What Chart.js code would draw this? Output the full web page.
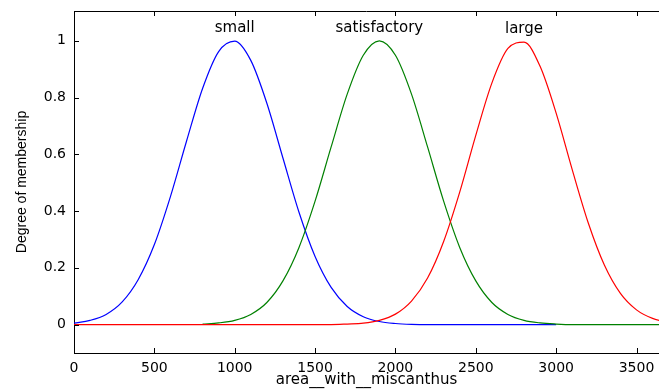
<!DOCTYPE html>
<html>
<head>
<meta charset="utf-8">
<script src="https://cdn.jsdelivr.net/npm/chart.js@4.4.1/dist/chart.umd.min.js"></script>
<style>
  body { margin: 0; background: #fff; }
  canvas { display: block; }
</style>
</head>
<body>
<canvas id="myChart" width="659" height="390"></canvas>
<script>
// x positions (area with miscanthus), one value every 100
const xValues = [0, 100, 200, 300, 400, 500, 600, 700, 800, 900,
    1000, 1100, 1200, 1300, 1400, 1500, 1600, 1700, 1800, 1900,
    2000, 2100, 2200, 2300, 2400, 2500, 2600, 2700, 2800, 2900,
    3000, 3100, 3200, 3300, 3400, 3500, 3600, 3700];

const seriesNames = ['small', 'satisfactory', 'large'];

// degree of membership
const small = [0.005, 0.015, 0.036, 0.08, 0.159, 0.282, 0.451, 0.646, 0.832, 0.962,
    0.999, 0.931, 0.78, 0.587, 0.396, 0.24, 0.131, 0.064, 0.028, 0.011,
    0.004, 0.001, 0, 0, 0, 0, 0, 0, 0, 0,
    0, null, null, null, null, null, null, null];

const satisfactory = [null, null, null, null, null, null, null, null, 0.002, 0.006,
    0.015, 0.036, 0.078, 0.154, 0.272, 0.435, 0.626, 0.812, 0.949, 1,
    0.949, 0.812, 0.626, 0.435, 0.272, 0.154, 0.078, 0.036, 0.015, 0.006,
    0.002, 0, 0, 0, 0, 0, 0, 0];

const large = [0, 0, 0, 0, 0, 0, 0, 0, 0, 0,
    0, 0, 0, 0, 0, 0, 0, 0.002, 0.005, 0.015,
    0.037, 0.083, 0.164, 0.293, 0.467, 0.667, 0.851, 0.973, 0.995, 0.91,
    0.745, 0.546, 0.358, 0.21, 0.11, 0.052, 0.022, 0.008];

const xTicks = [0, 500, 1000, 1500, 2000, 2500, 3000, 3500];
const yTicks = [0, 0.2, 0.4, 0.6, 0.8, 1];

const toPoints = arr => arr.map((v, i) => ({ x: xValues[i], y: v }));

// matlab style box: top edge plus inward tick marks
const matlabAxes = {
    id: 'matlabAxes',
    afterDraw(chart) {
        const { ctx, chartArea: a, scales: { x, y } } = chart;
        ctx.save();
        ctx.strokeStyle = '#000';
        ctx.lineWidth = 1;
        ctx.beginPath();
        ctx.moveTo(a.left, a.top + 0.5);
        ctx.lineTo(a.right, a.top + 0.5);
        xTicks.forEach(v => {
            const px = Math.round(x.getPixelForValue(v)) + 0.5;
            ctx.moveTo(px, a.bottom);
            ctx.lineTo(px, a.bottom - 5);
            ctx.moveTo(px, a.top);
            ctx.lineTo(px, a.top + 5);
        });
        yTicks.forEach(v => {
            const py = Math.round(y.getPixelForValue(v)) + 0.5;
            ctx.moveTo(a.left, py);
            ctx.lineTo(a.left + 5, py);
        });
        ctx.stroke();
        ctx.restore();
    }
};

// name of each curve above its peak
const peakLabels = {
    id: 'peakLabels',
    afterDatasetsDraw(chart) {
        const { ctx, scales: { x, y } } = chart;
        ctx.save();
        ctx.font = '15px "DejaVu Sans"';
        ctx.fillStyle = '#000';
        ctx.textAlign = 'center';
        ctx.textBaseline = 'alphabetic';
        chart.data.datasets.forEach(ds => {
            let best = null;
            ds.data.forEach(p => {
                if (p.y !== null && (best === null || p.y > best.y)) best = p;
            });
            ctx.fillText(ds.label, x.getPixelForValue(best.x), y.getPixelForValue(best.y) - 9);
        });
        ctx.restore();
    }
};

const ctx = document.getElementById('myChart');
const myChart = new Chart(ctx, {
    type: 'line',
    data: {
        datasets: [{
            label: seriesNames[0],
            data: toPoints(small),
            borderColor: '#0000ff',
            order: 3
        }, {
            label: seriesNames[1],
            data: toPoints(satisfactory),
            borderColor: '#008000',
            order: 2
        }, {
            label: seriesNames[2],
            data: toPoints(large),
            borderColor: '#ff0000',
            order: 1
        }]
    },
    options: {
        responsive: false,
        animation: false,
        layout: { padding: { top: 11, left: 0, right: 0, bottom: 0 } },
        elements: {
            line: { borderWidth: 1.2, cubicInterpolationMode: 'monotone', fill: false },
            point: { radius: 0, hoverRadius: 0 }
        },
        plugins: {
            legend: { display: false },
            tooltip: { enabled: false }
        },
        scales: {
            x: {
                type: 'linear',
                min: 0,
                max: 3640,
                afterBuildTicks: s => { s.ticks = xTicks.map(v => ({ value: v })); },
                afterFit: s => {
                    s.height = 37;
                    s.paddingLeft = 0;
                    s.paddingRight = 0;
                },
                grid: { drawOnChartArea: false, drawTicks: false },
                border: { color: '#000', width: 1 },
                ticks: {
                    color: '#000',
                    font: { family: 'DejaVu Sans', size: 14 },
                    padding: 7,
                    maxRotation: 0,
                    autoSkip: false,
                    callback: v => String(v)
                },
                title: {
                    display: true,
                    text: 'area__with__miscanthus',
                    color: '#000',
                    font: { family: 'DejaVu Sans', size: 15 },
                    padding: { top: 0, bottom: 1 }
                }
            },
            y: {
                min: -0.1,
                max: 1.105,
                afterBuildTicks: s => { s.ticks = yTicks.map(v => ({ value: v })); },
                afterFit: s => {
                    s.width = 74;
                    s.paddingTop = 0;
                    s.paddingBottom = 0;
                },
                grid: { drawOnChartArea: false, drawTicks: false },
                border: { color: '#000', width: 1 },
                ticks: {
                    color: '#000',
                    font: { family: 'DejaVu Sans', size: 14 },
                    padding: 8,
                    callback: v => String(v)
                },
                title: {
                    display: true,
                    text: 'Degree of membership',
                    color: '#000',
                    font: { family: 'Liberation Sans', size: 14 },
                    padding: { top: 14, bottom: 0 }
                }
            }
        }
    },
    plugins: [matlabAxes, peakLabels]
});
</script>
</body>
</html>
